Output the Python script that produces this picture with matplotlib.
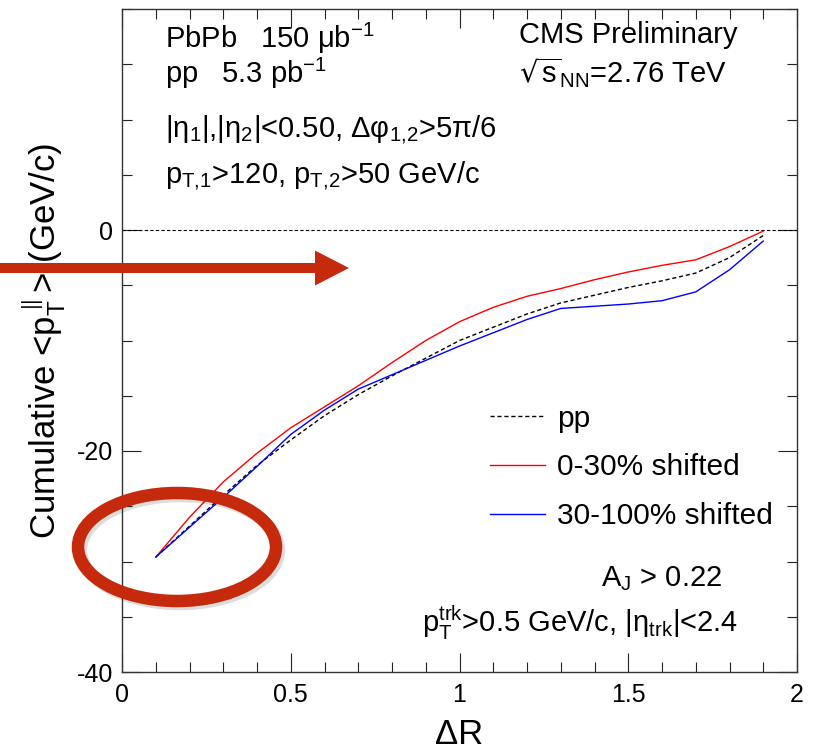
import matplotlib
matplotlib.use("Agg")
import matplotlib.pyplot as plt
from matplotlib.patches import Ellipse, FancyArrow
from matplotlib.ticker import MultipleLocator

plt.rcParams['font.family'] = ['Liberation Sans', 'DejaVu Sans']
plt.rcParams['mathtext.default'] = 'regular'
plt.rcParams['axes.unicode_minus'] = False

# values (Delta R, cumulative <p_T||> in GeV/c)
dr = [0.1, 0.2, 0.3, 0.4, 0.5, 0.6, 0.7, 0.8, 0.9, 1.0,
      1.1, 1.2, 1.3, 1.4, 1.5, 1.6, 1.7, 1.8, 1.9]
pp = [-29.6, -26.8, -24.0, -21.3, -19.0, -16.8, -14.9, -13.2, -11.6, -10.0,
      -8.8, -7.6, -6.6, -5.9, -5.2, -4.6, -3.9, -2.5, -0.5]
cent_0_30 = [-29.6, -26.0, -22.8, -20.2, -17.9, -16.0, -14.1, -12.0, -10.0, -8.3,
             -7.0, -6.0, -5.3, -4.5, -3.8, -3.2, -2.7, -1.5, -0.1]
cent_30_100 = [-29.6, -26.9, -24.2, -21.4, -18.5, -16.3, -14.4, -13.1, -11.8, -10.5,
               -9.3, -8.1, -7.1, -6.9, -6.7, -6.4, -5.6, -3.6, -1.0]

labels = ["pp", "0-30% shifted", "30-100% shifted"]
annot_red = "#c62a0d"

fig = plt.figure(figsize=(8.21, 7.53), dpi=100)
ax = fig.add_axes([122 / 821, 81 / 753, 675 / 821, 663 / 753])

ax.axhline(0, color="black", lw=0.8, ls=(0, (3, 2)))
ax.plot(dr, pp, color="black", lw=1.0, ls=(0, (3, 2)), label=labels[0])
ax.plot(dr, cent_0_30, color="#ff0000", lw=1.0, label=labels[1])
ax.plot(dr, cent_30_100, color="#0000ff", lw=1.0, label=labels[2])

ax.set_xlim(0, 2)
ax.set_ylim(-40, 20)
ax.set_xticks([0, 0.5, 1, 1.5, 2])
ax.set_xticklabels(["0", "0.5", "1", "1.5", "2"])
ax.set_yticks([-40, -20, 0])
ax.xaxis.set_minor_locator(MultipleLocator(0.1))
ax.yaxis.set_minor_locator(MultipleLocator(5))
ax.tick_params(which="both", direction="in", top=True, right=True,
               width=0.8, labelsize=18, color="#222222")
ax.tick_params(which="major", length=13.7)
ax.tick_params(which="minor", length=7.2)
ax.tick_params(axis="y", pad=6.5)
ax.tick_params(axis="x", pad=8)
for s in ax.spines.values():
    s.set_linewidth(1.0)
    s.set_color("#333333")

ax.set_xlabel("ΔR", fontsize=25)
ax.xaxis.set_label_coords(0.5, -0.095)
ax.xaxis.label.set_va("center")
ax.set_ylabel(r"Cumulative <$p_T^{\parallel}$> (GeV/c)", fontsize=25)
ax.yaxis.set_label_coords(-0.115, 0.5)
ax.yaxis.label.set_va("center")

fs = 21
ax.text(0.127, 16.5, r"PbPb   150 μb$^{-1}$", fontsize=fs)
ax.text(0.127, 13.3, r"pp   5.3 pb$^{-1}$", fontsize=fs)
ax.text(0.127, 8.4, r"|η$_1$|,|η$_2$|<0.50, Δφ$_{1{,}2}$>5π/6", fontsize=fs)
ax.text(0.127, 4.25, r"p$_{T{,}1}$>120, p$_{T{,}2}$>50 GeV/c", fontsize=fs)
ax.text(1.176, 16.9, "CMS Preliminary", fontsize=fs)
ax.text(1.176, 13.3, r"$\sqrt{s}_{NN}$=2.76 TeV", fontsize=fs)
ax.text(1.42, -32.2, r"A$_J$ > 0.22", fontsize=fs)
ax.text(0.889, -36.4, r"p$_T^{trk}$>0.5 GeV/c, |η$_{trk}$|<2.4", fontsize=fs)

ax.legend(loc="center left", bbox_to_anchor=(0.545, 0.3085), frameon=False,
          fontsize=21.5, handlelength=1.85, handletextpad=0.4, labelspacing=0.7,
          borderpad=0, borderaxespad=0)

# slide annotations on top (pixel coordinates)
over = fig.add_axes([0, 0, 1, 1])
over.set_xlim(0, 821)
over.set_ylim(753, 0)
over.axis("off")
over.patch.set_alpha(0)
over.add_patch(Ellipse((180, 550), 198, 108, fill=False, ec="#00000022", lw=9))
over.add_patch(Ellipse((177, 547), 198, 108, fill=False, ec=annot_red, lw=9))
over.add_patch(FancyArrow(0, 268, 349, 0, width=10, head_width=35, head_length=34,
                          length_includes_head=True, color=annot_red, lw=0))

fig.savefig("out.png", dpi=100)
